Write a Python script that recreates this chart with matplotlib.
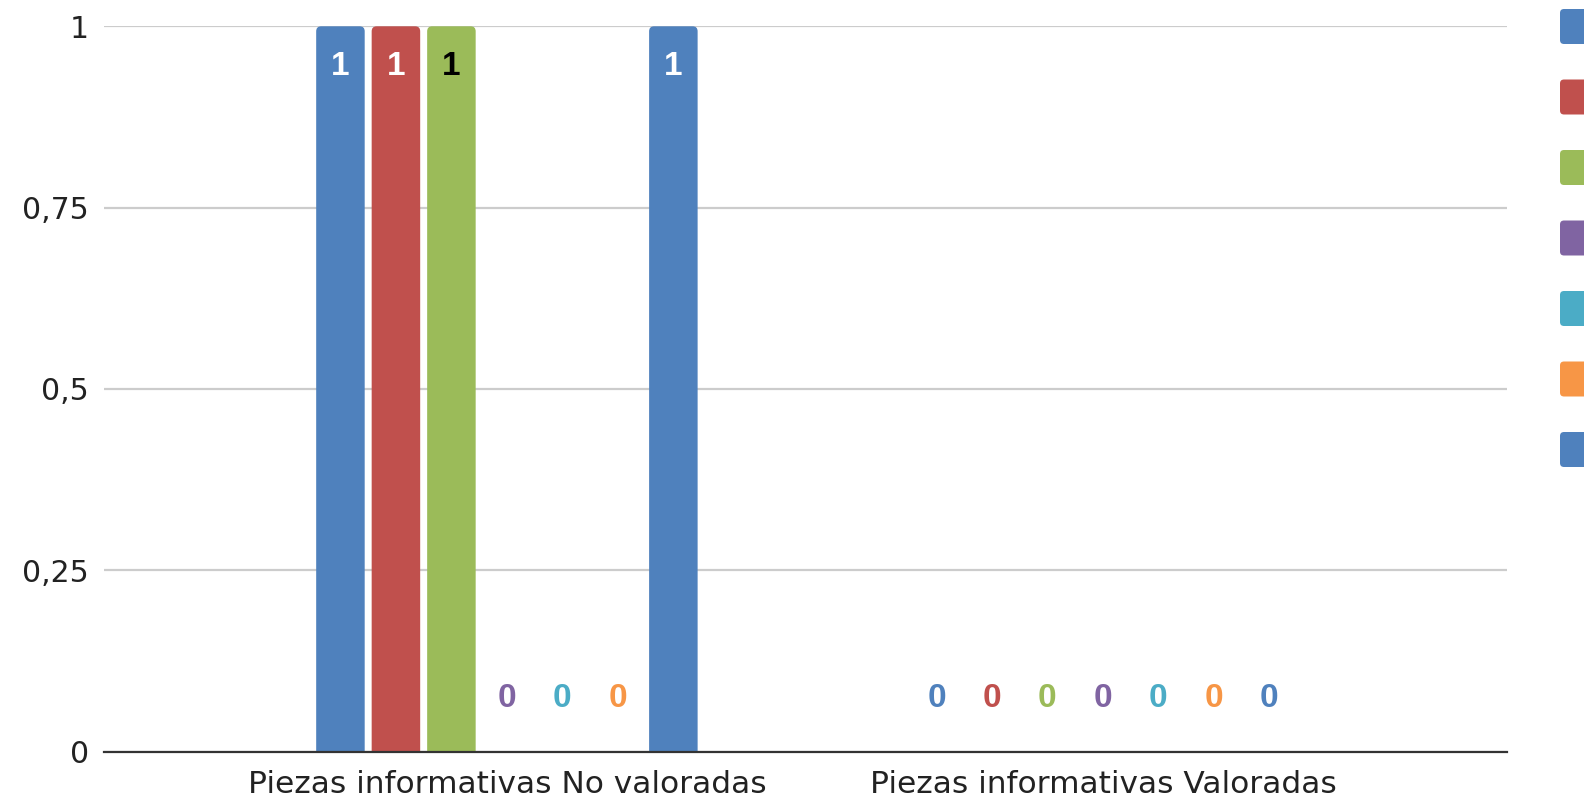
import matplotlib
matplotlib.use("Agg")
import matplotlib.pyplot as plt
from matplotlib.patches import FancyBboxPatch
from matplotlib.ticker import FuncFormatter
import numpy as np

categories = ["Piezas informativas No valoradas", "Piezas informativas Valoradas"]
series_values = [
    [1, 0],
    [1, 0],
    [1, 0],
    [0, 0],
    [0, 0],
    [0, 0],
    [1, 0],
]
series_colors = ["#4F81BD", "#C0504D", "#9BBB59", "#8064A2", "#4BACC6", "#F79646", "#4F81BD"]
inside_label_colors = ["white", "white", "black", "white", "white", "white", "white"]
yticks = [0, 0.25, 0.5, 0.75, 1]

plt.rcParams['font.family'] = ['DejaVu Sans']

W, H = 1584, 809
fig = plt.figure(figsize=(W / 100, H / 100), dpi=100)
ax = fig.add_axes([104 / W, 57.4 / H, (1507 - 104) / W, (751.6 - 26.3) / H])

x = np.arange(len(categories))
step = 0.0931
width = 0.0814
n = len(series_values)
ax.set_xlim(-0.676, 1.678)
ax.set_ylim(0, 1)

px_x = (1.678 + 0.676) / (1507 - 104)
px_y = 1.0 / (751.6 - 26.3)
rad = 5 * px_x

label_font = dict(family=['Liberation Sans', 'DejaVu Sans'], fontsize=24, fontweight="bold")

for i, (vals, col) in enumerate(zip(series_values, series_colors)):
    xs = x + (i - (n - 1) / 2) * step
    for xi, v in zip(xs, vals):
        if v > 0:
            p = FancyBboxPatch((xi - width / 2 + rad, -0.05 + rad / px_x * px_y),
                               width - 2 * rad, v + 0.05 - 2 * rad / px_x * px_y,
                               boxstyle=f"round,pad={rad},rounding_size={rad}",
                               mutation_aspect=px_y / px_x,
                               facecolor=col, edgecolor="none", zorder=3)
            ax.add_patch(p)
            ax.annotate(f"{v:g}", (xi, v), xytext=(0, -35.3), textcoords="offset points",
                        ha="center", va="baseline", color=inside_label_colors[i],
                        zorder=4, **label_font)
        else:
            ax.annotate(f"{v:g}", (xi, v), xytext=(0, 32.4), textcoords="offset points",
                        ha="center", va="baseline", color=col, zorder=4, **label_font)

ax.set_yticks(yticks)
ax.yaxis.set_major_formatter(FuncFormatter(lambda v, p: f"{v:g}".replace(".", ",")))
ax.set_xticks(x)
ax.set_xticklabels(categories, fontsize=22.5)
ax.tick_params(axis='y', length=0, labelsize=21.5, pad=11, labelcolor="#222222")
ax.tick_params(axis='x', length=0, pad=13, labelcolor="#222222")
ax.grid(axis='y', color="#CCCCCC", linewidth=1.6, zorder=0)
ax.set_axisbelow(True)
for s in ["left", "right", "top"]:
    ax.spines[s].set_visible(False)
ax.spines["bottom"].set_color("#333333")
ax.spines["bottom"].set_linewidth(1.6)
ax.spines["bottom"].set_zorder(5)

# legend keys (labels fall outside the canvas in the reference)
key_tops = [9 + 70.5 * k for k in range(len(series_colors))]
for top, col in zip(key_tops, series_colors):
    r = 4
    fig.patches.append(FancyBboxPatch((1560 + r, H - top - 35 + r), 35 - 2 * r, 35 - 2 * r,
                                      boxstyle=f"round,pad={r},rounding_size={r}",
                                      transform=None, facecolor=col, edgecolor="none"))

fig.savefig("out.png", dpi=100)
